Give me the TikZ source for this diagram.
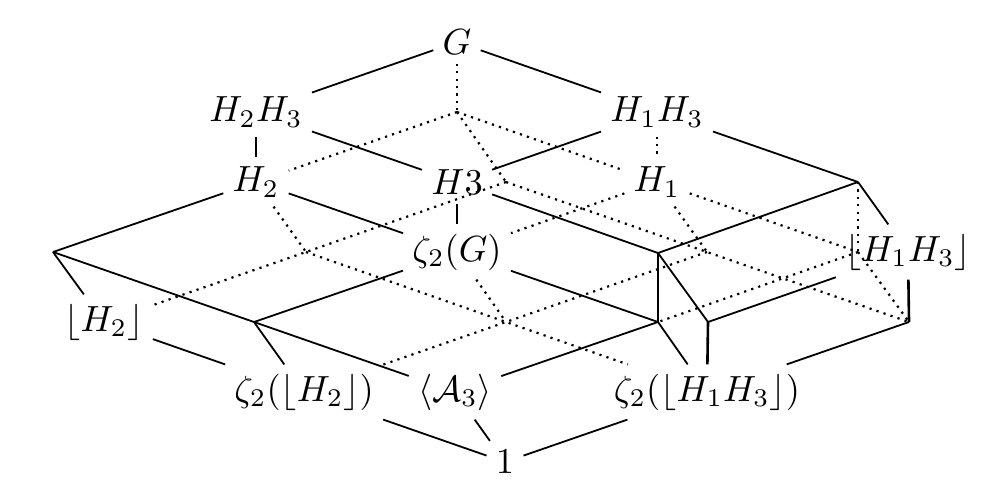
\documentclass[tikz,border=0pt]{standalone}
\usepackage{graphicx}
\newcommand{\mylbl}[1]{\scalebox{1.82}{$#1$}}
\begin{document}
\begin{tikzpicture}[x=0.5pt,y=-0.5pt,
  lbl/.style={inner sep=4.5pt},
  vis/.style={line width=0.9pt},
  visv/.style={line width=1.3pt},
  hid/.style={line width=1.1pt,dash pattern=on 1.1pt off 2.6pt}]
\useasboundingbox (0,0) rectangle (1004,500);
% labelled nodes
\node[lbl] (G)     at (457,42)  {\mylbl{G}};
\node[lbl] (H2H3)  at (256,112) {\mylbl{H_2H_3}};
\node[lbl] (H1H3)  at (657,112) {\mylbl{H_1H_3}};
\node[lbl] (H2)    at (256,182) {\mylbl{H_2}};
\node[lbl] (H3)    at (457,182) {\mylbl{H3}};
\node[lbl] (H1)    at (657,182) {\mylbl{H_1}};
\node[lbl] (zG)    at (457,252) {\mylbl{\zeta_2(G)}};
\node[lbl] (lH1H3) at (908,252) {\mylbl{\lfloor H_1H_3\rfloor}};
\node[lbl] (lH2)   at (104,322) {\mylbl{\lfloor H_2\rfloor}};
\node[lbl] (zH2)   at (304,392) {\mylbl{\zeta_2(\lfloor H_2\rfloor)}};
\node[lbl] (A3)    at (455,392) {\mylbl{\langle\mathcal{A}_3\rangle}};
\node[lbl] (zH1H3) at (707,392) {\mylbl{\zeta_2(\lfloor H_1H_3\rfloor)}};
\node[lbl] (one)   at (505,462) {\mylbl{1}};
% unlabelled corners
\coordinate (A)  at (457,112);
\coordinate (L)  at (53,252);
\coordinate (V1) at (254,322);
\coordinate (R)  at (858,182);
\coordinate (Rc) at (858,252);
\coordinate (Rb) at (909,322);
\coordinate (P)  at (658,253);
\coordinate (Q)  at (658,322);
\coordinate (S)  at (708,322);
\coordinate (E0) at (506,182);
\coordinate (E1) at (707,252);
\coordinate (F0) at (306,252);
\coordinate (F1) at (506,322);
% visible edges
\draw[vis] (G) -- (H2H3);
\draw[vis] (G) -- (H1H3);
\draw[vis] (H2H3) -- (H3);
\draw[vis] (H1H3) -- (H3);
\draw[vis] (H1H3) -- (R);
\draw[vis] (H2) -- (zG);
\draw[vis] (H2) -- (L);
\draw[vis] (L) -- (lH2);
\draw[vis] (L) -- (V1);
\draw[vis] (V1) -- (zG);
\draw[vis] (V1) -- (zH2);
\draw[vis] (V1) -- (A3);
\draw[vis] (lH2) -- (zH2);
\draw[vis] (zH2) -- (one);
\draw[vis] (A3) -- (one);
\draw[vis] (zH1H3) -- (one);
\draw[vis] (H3) -- (P);
\draw[vis] (P) -- (R);
\draw[vis] (R) -- (lH1H3);
\draw[vis] (P) -- (S);
\draw[vis] (S) -- (lH1H3);
\draw[vis] (Rb) -- (zH1H3);
\draw[vis] (zG) -- (Q);
\draw[vis] (Q) -- (A3);
\draw[vis] (Q) -- (zH1H3);
\draw[visv] (H2H3) -- (H2);
\draw[visv] (H3) -- (zG);
\draw[visv] (P) -- (Q);
\draw[visv] (S) -- (zH1H3);
\draw[visv] (lH1H3) -- (Rb);
% hidden edges
\draw[hid] (G) -- (A);
\draw[hid] (A) -- (H2);
\draw[hid] (A) -- (H1);
\draw[hid] (A) -- (E0);
\draw[hid] (H1H3) -- (H1);
\draw[hid] (H1) -- (zG);
\draw[hid] (H1) -- (Rc);
\draw[hid] (H1) -- (E1);
\draw[hid] (R) -- (Rc);
\draw[hid] (Rc) -- (Rb);
\draw[hid] (Rc) -- (Q);
\draw[hid] (E0) -- (E1) -- (Rb);
\draw[hid] (E0) -- (F0) -- (lH2);
\draw[hid] (H2) -- (F0);
\draw[hid] (F0) -- (F1) -- (zH1H3);
\draw[hid] (E1) -- (F1) -- (zH2);
\draw[hid] (zG) -- (F1);
\end{tikzpicture}
\end{document}
